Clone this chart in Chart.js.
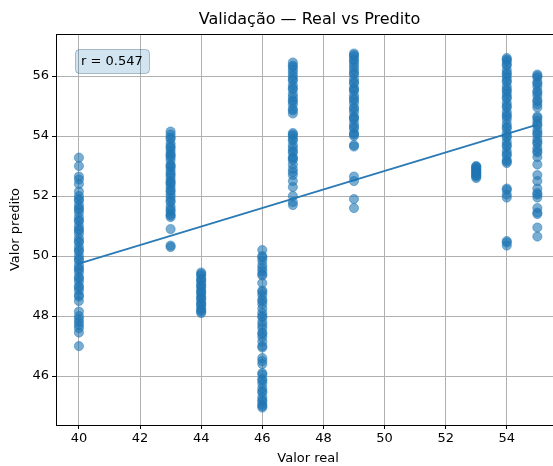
<!DOCTYPE html>
<html>
<head>
<meta charset="utf-8"/>
<style>
  html,body{margin:0;padding:0;background:#fff;overflow:hidden;width:553px;height:466px;}
  canvas{display:block;}
</style>
</head>
<body>
<canvas id="c" width="578" height="466" style="width:578px;height:466px"></canvas>
<script src="https://cdn.jsdelivr.net/npm/chart.js@4.4.0/dist/chart.umd.min.js"></script>
<script>
// valores
const realValues = [40, 43, 44, 46, 47, 49, 53, 54, 55];
const pred40 = [53.28, 53.0, 52.65, 52.55, 52.4, 52.15, 52.0, 51.9, 51.85, 51.7, 51.6, 51.55, 51.45, 51.3, 51.2, 51.15, 51.0, 50.9, 50.85, 50.75, 50.6, 50.5, 50.45, 50.3, 50.2, 50.15, 50.0, 49.9, 49.85, 49.7, 49.6, 49.55, 49.45, 49.3, 49.25, 49.15, 49.0, 48.95, 48.85, 48.7, 48.65, 48.5, 48.15, 48.0, 47.9, 47.8, 47.7, 47.6, 47.45, 47.0];
const pred43 = [54.15, 54.05, 53.95, 53.9, 53.75, 53.65, 53.6, 53.5, 53.4, 53.35, 53.3, 53.2, 53.05, 53.0, 52.95, 52.85, 52.75, 52.7, 52.6, 52.5, 52.45, 52.4, 52.3, 52.2, 52.15, 52.05, 51.95, 51.85, 51.8, 51.65, 51.55, 51.5, 51.4, 51.35, 51.3, 50.9, 50.35, 50.3];
const pred44 = [49.45, 49.4, 49.35, 49.25, 49.2, 49.15, 49.05, 49.0, 48.95, 48.85, 48.8, 48.75, 48.65, 48.6, 48.55, 48.45, 48.4, 48.35, 48.25, 48.2, 48.15, 48.1];
const pred46 = [50.2, 50.0, 49.95, 49.85, 49.7, 49.6, 49.5, 49.4, 49.35, 49.1, 48.85, 48.8, 48.7, 48.55, 48.5, 48.4, 48.25, 48.1, 48.0, 47.95, 47.8, 47.7, 47.6, 47.45, 47.4, 47.3, 47.15, 47.0, 46.95, 46.6, 46.5, 46.4, 46.1, 46.05, 45.9, 45.85, 45.75, 45.6, 45.5, 45.45, 45.3, 45.2, 45.15, 45.05, 45.0, 44.95];
const pred47 = [56.45, 56.35, 56.3, 56.2, 56.1, 56.0, 55.9, 55.85, 55.7, 55.6, 55.55, 55.4, 55.3, 55.2, 55.15, 55.05, 54.9, 54.85, 54.75, 54.1, 54.05, 54.0, 53.9, 53.85, 53.7, 53.6, 53.5, 53.45, 53.3, 53.25, 53.2, 53.05, 52.9, 52.8, 52.7, 52.5, 52.3, 52.0, 51.8, 51.7];
const pred49 = [56.75, 56.7, 56.65, 56.55, 56.5, 56.4, 56.3, 56.2, 56.1, 56.05, 55.9, 55.8, 55.75, 55.6, 55.55, 55.5, 55.35, 55.25, 55.2, 55.1, 54.95, 54.9, 54.8, 54.65, 54.6, 54.55, 54.4, 54.3, 54.25, 54.1, 54.05, 54.0, 53.7, 53.65, 52.65, 52.5, 51.9, 51.6];
const pred53 = [53.0, 52.98, 52.95, 52.9, 52.88, 52.85, 52.8, 52.78, 52.75, 52.7, 52.68, 52.65, 52.6];
const pred54 = [56.6, 56.55, 56.5, 56.4, 56.35, 56.2, 56.1, 56.05, 55.95, 55.85, 55.8, 55.65, 55.55, 55.5, 55.4, 55.3, 55.25, 55.1, 55.0, 54.95, 54.8, 54.7, 54.65, 54.55, 54.4, 54.3, 54.25, 54.1, 54.0, 53.95, 53.8, 53.7, 53.65, 53.5, 53.4, 53.35, 53.2, 53.15, 53.1, 52.25, 52.2, 52.05, 51.95, 50.5, 50.45, 50.35];
const pred55 = [56.05, 56.0, 55.95, 55.8, 55.75, 55.65, 55.5, 55.45, 55.35, 55.2, 55.15, 55.05, 54.95, 54.65, 54.6, 54.5, 54.4, 54.35, 54.2, 54.1, 54.05, 53.9, 53.8, 53.75, 53.6, 53.5, 53.45, 53.3, 53.05, 52.7, 52.5, 52.25, 52.1, 52.05, 51.95, 51.6, 51.45, 51.4, 50.95, 50.65];
const fitX = [40, 55];
const fitY = [49.75, 54.38];
const xTicks = [40, 42, 44, 46, 48, 50, 52, 54, 56];
const yTicks = [46, 48, 50, 52, 54, 56];
const rLabel = "r = 0.547";

const FONT = "'DejaVu Sans', sans-serif";
const predGroups = [pred40, pred43, pred44, pred46, pred47, pred49, pred53, pred54, pred55];
const pontos = [];
predGroups.forEach((arr, i) => arr.forEach(v => pontos.push({x: realValues[i], y: v})));
const linha = fitX.map((x, i) => ({x, y: fitY[i]}));

const extras = {
  id: "extras",
  afterDraw(chart) {
    const {ctx, chartArea: a} = chart;
    ctx.save();
    // moldura superior/direita
    ctx.strokeStyle = "#000"; ctx.lineWidth = 1;
    ctx.beginPath();
    ctx.moveTo(a.left, a.top + 0.5); ctx.lineTo(a.right, a.top + 0.5);
    ctx.moveTo(a.right + 0.5, a.top); ctx.lineTo(a.right + 0.5, a.bottom);
    ctx.stroke();
    // titulo
    ctx.fillStyle = "#000";
    ctx.font = "16px " + FONT;
    ctx.textAlign = "center"; ctx.textBaseline = "middle";
    ctx.fillText("Validação — Real vs Predito", 309.5, 20);
    // caixa do r
    const bx = a.left + 19, by = a.top + 15, bw = 74, bh = 24;
    ctx.beginPath();
    ctx.roundRect(bx + 0.5, by + 0.5, bw, bh, 4);
    ctx.fillStyle = "rgba(31,119,180,0.2)"; ctx.fill();
    ctx.strokeStyle = "rgba(40,80,110,0.35)"; ctx.stroke();
    ctx.fillStyle = "#000";
    ctx.font = "13px " + FONT;
    ctx.textAlign = "left";
    ctx.fillText(rLabel, bx + 6, by + bh / 2 + 1);
    ctx.restore();
  }
};

new Chart(document.getElementById("c"), {
  type: "scatter",
  data: {
    datasets: [
      { data: pontos, backgroundColor: "rgba(31,119,180,0.6)", borderColor: "rgba(31,119,180,0.6)", borderWidth: 0.8, pointRadius: 4.6, pointHoverRadius: 4.6 },
      { type: "line", data: linha, borderColor: "#2a7ab5", borderWidth: 1.8, pointRadius: 0, fill: false, showLine: true }
    ]
  },
  options: {
    responsive: false,
    devicePixelRatio: 1,
    animation: false,
    layout: { padding: { top: 34, right: 12, bottom: 0, left: 0 } },
    plugins: { legend: { display: false }, tooltip: { enabled: false } },
    scales: {
      x: {
        type: "linear", min: 39.25, max: 55.75,
        afterBuildTicks: s => { s.ticks = xTicks.map(v => ({value: v})); },
        afterFit: s => { s.height = 41; },
        grid: { color: "#b0b0b0", lineWidth: 1, tickColor: "#000", tickLength: 4 },
        border: { display: true, color: "#000", width: 1 },
        ticks: { color: "#000", font: { family: FONT, size: 13 }, padding: 2, maxRotation: 0 },
        title: { display: true, text: "Valor real", color: "#000", font: { family: FONT, size: 13 }, padding: { top: 0, bottom: 0 } }
      },
      y: {
        type: "linear", min: 44.37, max: 57.4,
        afterBuildTicks: s => { s.ticks = yTicks.map(v => ({value: v})); },
        afterFit: s => { s.width = 56; },
        grid: { color: "#b0b0b0", lineWidth: 1, tickColor: "#000", tickLength: 4 },
        border: { display: true, color: "#000", width: 1 },
        ticks: { color: "#000", font: { family: FONT, size: 13 }, padding: 3 },
        title: { display: true, text: "Valor predito", color: "#000", font: { family: FONT, size: 13 }, padding: { top: 8, bottom: 0 } }
      }
    }
  },
  plugins: [extras]
});
</script>
</body>
</html>
